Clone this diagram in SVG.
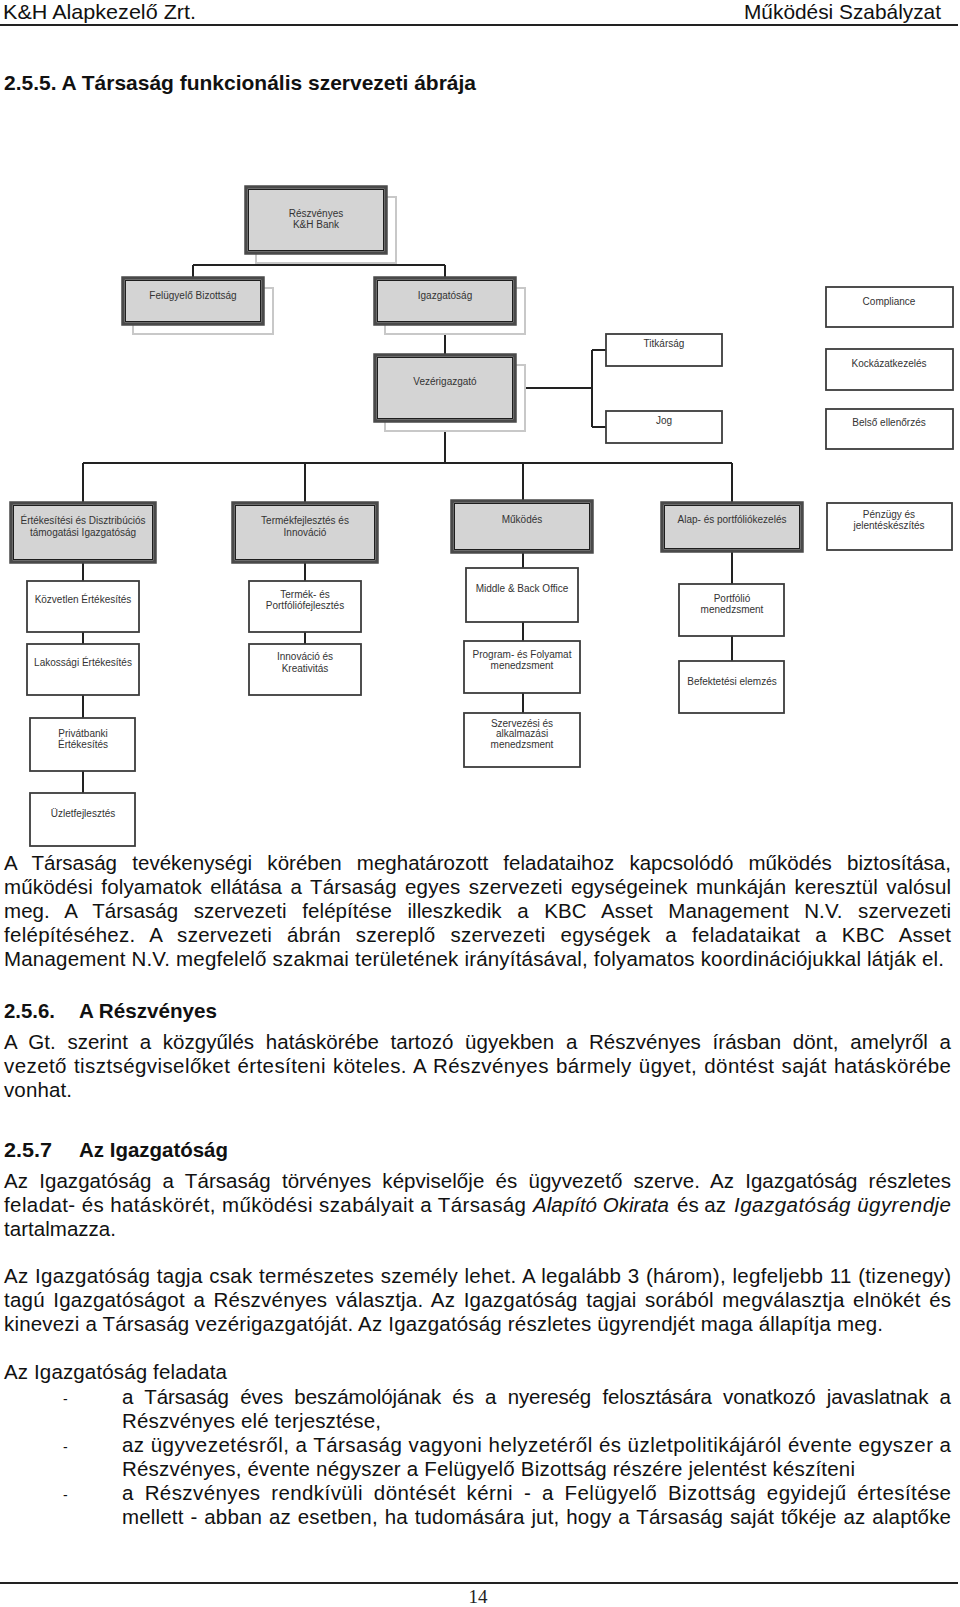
<svg xmlns="http://www.w3.org/2000/svg" width="960" height="1607" viewBox="0 0 960 1607">
<style>
.t{font-family:"Liberation Sans",Arial,sans-serif;font-size:20.5px;fill:#111}
.b{font-weight:bold}
.i{font-style:italic}
.h{font-family:"Liberation Sans",Arial,sans-serif;font-size:21px;fill:#111}
.bx text{font-family:"Liberation Sans",Arial,sans-serif;font-size:10px;fill:#333;text-anchor:middle}
.go{fill:#d4d4d4;stroke:#4a4a4a;stroke-width:3.5}
.gi{fill:none;stroke:#1e1e1e;stroke-width:1}
.sh{fill:#fff;stroke:#c8c8c8;stroke-width:2}
.wb{fill:#fff;stroke:#3c3c3c;stroke-width:1.8}
.conn path{stroke:#222;stroke-width:2;fill:none}
.rule{stroke:#222;stroke-width:2}
</style>
<rect width="960" height="1607" fill="#fff"/>
<!-- header -->
<text class="h" x="3" y="19" textLength="193" lengthAdjust="spacingAndGlyphs">K&amp;H Alapkezelő Zrt.</text>
<text class="h" x="744" y="19" textLength="197" lengthAdjust="spacingAndGlyphs">Működési Szabályzat</text>
<line class="rule" x1="0" y1="25" x2="958" y2="25"/>
<text class="t b" x="4" y="90" textLength="472" lengthAdjust="spacingAndGlyphs">2.5.5. A Társaság funkcionális szervezeti ábrája</text>

<!-- connectors -->
<g id="connectors" class="conn">
<path d="M316 253V265M193 265H445M193 265V278M445 265V278"/>
<path d="M445 324V355"/>
<path d="M445 421V463M83 463H732M83 463V503M305 463V503M523 463V501M732 463V503"/>
<path d="M515 388H592M592 350V427M592 350H606M592 427H606"/>
<path d="M83 562V581M83 632V644M83 695V718M83 771V793"/>
<path d="M305 562V581M305 632V644"/>
<path d="M523 552V568M523 622V641M523 693V713"/>
<path d="M732 551V584M732 636V661"/>
</g>

<!-- top level nodes -->
<g id="n-reszvenyes" class="bx">
<rect class="sh" x="256" y="197" width="140" height="66"/>
<rect class="go" x="246" y="187" width="140" height="66"/>
<rect class="gi" x="248.5" y="189.5" width="135" height="61"/>
<text x="316" y="217">Részvényes</text>
<text x="316" y="228">K&amp;H Bank</text>
</g>
<g id="n-felugyelo" class="bx">
<rect class="sh" x="133" y="288" width="140" height="46"/>
<rect class="go" x="123" y="278" width="140" height="46"/>
<rect class="gi" x="125.5" y="280.5" width="135" height="41"/>
<text x="193" y="299">Felügyelő Bizottság</text>
</g>
<g id="n-igazgatosag" class="bx">
<rect class="sh" x="385" y="288" width="140" height="46"/>
<rect class="go" x="375" y="278" width="140" height="46"/>
<rect class="gi" x="377.5" y="280.5" width="135" height="41"/>
<text x="445" y="299">Igazgatóság</text>
</g>
<g id="n-vezerigazgato" class="bx">
<rect class="sh" x="385" y="365" width="140" height="66"/>
<rect class="go" x="375" y="355" width="140" height="66"/>
<rect class="gi" x="377.5" y="357.5" width="135" height="61"/>
<text x="445" y="385">Vezérigazgató</text>
</g>
<g id="n-titkarsag" class="bx">
<rect class="wb" x="606" y="334" width="116" height="32"/>
<text x="664" y="347">Titkárság</text>
</g>
<g id="n-jog" class="bx">
<rect class="wb" x="606" y="411" width="116" height="32"/>
<text x="664" y="424">Jog</text>
</g>
<g id="n-compliance" class="bx">
<rect class="wb" x="826" y="287" width="127" height="40"/>
<text x="889" y="305">Compliance</text>
</g>
<g id="n-kockazat" class="bx">
<rect class="wb" x="826" y="349" width="127" height="41"/>
<text x="889" y="367">Kockázatkezelés</text>
</g>
<g id="n-belso" class="bx">
<rect class="wb" x="826" y="409" width="127" height="40"/>
<text x="889" y="426">Belső ellenőrzés</text>
</g>

<!-- second row -->
<g id="n-ertekesitesi" class="bx">
<rect class="go" x="11" y="503" width="144" height="59"/>
<rect class="gi" x="13.5" y="505.5" width="139" height="54"/>
<text x="83" y="524">Értékesítési és Disztribúciós</text>
<text x="83" y="536">támogatási Igazgatóság</text>
</g>
<g id="n-termekfejlesztes" class="bx">
<rect class="go" x="233" y="503" width="144" height="59"/>
<rect class="gi" x="235.5" y="505.5" width="139" height="54"/>
<text x="305" y="524">Termékfejlesztés és</text>
<text x="305" y="536">Innováció</text>
</g>
<g id="n-mukodes" class="bx">
<rect class="go" x="452" y="501" width="140" height="51"/>
<rect class="gi" x="454.5" y="503.5" width="135" height="46"/>
<text x="522" y="523">Működés</text>
</g>
<g id="n-alap" class="bx">
<rect class="go" x="662" y="503" width="140" height="48"/>
<rect class="gi" x="664.5" y="505.5" width="135" height="43"/>
<text x="732" y="523">Alap- és portfóliókezelés</text>
</g>
<g id="n-penzugy" class="bx">
<rect class="wb" x="827" y="503" width="125" height="47"/>
<text x="889" y="517.5">Pénzügy és</text>
<text x="889" y="529">jelentéskészítés</text>
</g>

<!-- column 1 -->
<g id="n-kozvetlen" class="bx">
<rect class="wb" x="27" y="581" width="112" height="51"/>
<text x="83" y="602.5">Közvetlen Értékesítés</text>
</g>
<g id="n-lakossagi" class="bx">
<rect class="wb" x="27" y="644" width="112" height="51"/>
<text x="83" y="666">Lakossági Értékesítés</text>
</g>
<g id="n-privatbanki" class="bx">
<rect class="wb" x="30" y="718" width="105" height="53"/>
<text x="83" y="736.5">Privátbanki</text>
<text x="83" y="747.5">Értékesítés</text>
</g>
<g id="n-uzletfejlesztes" class="bx">
<rect class="wb" x="30" y="793" width="105" height="53"/>
<text x="83" y="816.5">Üzletfejlesztés</text>
</g>

<!-- column 2 -->
<g id="n-termek-portfolio" class="bx">
<rect class="wb" x="249" y="581" width="112" height="51"/>
<text x="305" y="597.5">Termék- és</text>
<text x="305" y="609">Portfóliófejlesztés</text>
</g>
<g id="n-innovacio" class="bx">
<rect class="wb" x="249" y="644" width="112" height="51"/>
<text x="305" y="660">Innováció és</text>
<text x="305" y="671.5">Kreativitás</text>
</g>

<!-- column 3 -->
<g id="n-middleback" class="bx">
<rect class="wb" x="466" y="568" width="112" height="54"/>
<text x="522" y="591.5">Middle &amp; Back Office</text>
</g>
<g id="n-program" class="bx">
<rect class="wb" x="464" y="641" width="116" height="52"/>
<text x="522" y="657.5">Program- és Folyamat</text>
<text x="522" y="669">menedzsment</text>
</g>
<g id="n-szervezesi" class="bx">
<rect class="wb" x="464" y="713" width="116" height="54"/>
<text x="522" y="726.5">Szervezési és</text>
<text x="522" y="737">alkalmazási</text>
<text x="522" y="748">menedzsment</text>
</g>

<!-- column 4 -->
<g id="n-portfolio-men" class="bx">
<rect class="wb" x="679" y="584" width="105" height="52"/>
<text x="732" y="601.5">Portfólió</text>
<text x="732" y="613">menedzsment</text>
</g>
<g id="n-befektetesi" class="bx">
<rect class="wb" x="679" y="661" width="105" height="52"/>
<text x="732" y="684.5">Befektetési elemzés</text>
</g>

<!-- body text -->
<text class="t" x="4" y="870" word-spacing="9.5" textLength="947" lengthAdjust="spacing">A Társaság tevékenységi körében meghatározott feladataihoz kapcsolódó működés biztosítása,</text>
<text class="t" x="4" y="894" word-spacing="2.5" textLength="947" lengthAdjust="spacing">működési folyamatok ellátása a Társaság egyes szervezeti egységeinek munkáján keresztül valósul</text>
<text class="t" x="4" y="918" word-spacing="9.8" textLength="947" lengthAdjust="spacing">meg. A Társaság szervezeti felépítése illeszkedik a KBC Asset Management N.V. szervezeti</text>
<text class="t" x="4" y="942" word-spacing="9" textLength="947" lengthAdjust="spacing">felépítéséhez. A szervezeti ábrán szereplő szervezeti egységek a feladataikat a KBC Asset</text>
<text class="t" x="4" y="966" textLength="940" lengthAdjust="spacing">Management N.V. megfelelő szakmai területének irányításával, folyamatos koordinációjukkal látják el.</text>

<text class="t b" x="4" y="1018" textLength="51" lengthAdjust="spacingAndGlyphs">2.5.6.</text>
<text class="t b" x="79" y="1018" textLength="138" lengthAdjust="spacingAndGlyphs">A Részvényes</text>
<text class="t" x="4" y="1049" word-spacing="6" textLength="947" lengthAdjust="spacing">A Gt. szerint a közgyűlés hatáskörébe tartozó ügyekben a Részvényes írásban dönt, amelyről a</text>
<text class="t" x="4" y="1073" word-spacing="1" textLength="947" lengthAdjust="spacing">vezető tisztségviselőket értesíteni köteles. A Részvényes bármely ügyet, döntést saját hatáskörébe</text>
<text class="t" x="4" y="1097" textLength="68" lengthAdjust="spacing">vonhat.</text>

<text class="t b" x="4" y="1157" textLength="48" lengthAdjust="spacingAndGlyphs">2.5.7</text>
<text class="t b" x="79" y="1157" textLength="149" lengthAdjust="spacingAndGlyphs">Az Igazgatóság</text>
<text class="t" x="4" y="1188" word-spacing="5.4" textLength="947" lengthAdjust="spacing">Az Igazgatóság a Társaság törvényes képviselője és ügyvezető szerve. Az Igazgatóság részletes</text>
<text class="t" x="4" y="1212" textLength="522" lengthAdjust="spacing">feladat- és hatáskörét, működési szabályait a Társaság</text>
<text class="t i" x="533" y="1212" textLength="136" lengthAdjust="spacing">Alapító Okirata</text>
<text class="t" x="677" y="1212" textLength="49" lengthAdjust="spacing">és az</text>
<text class="t i" x="734" y="1212" textLength="217" lengthAdjust="spacing">Igazgatóság ügyrendje</text>
<text class="t" x="4" y="1236" textLength="112" lengthAdjust="spacing">tartalmazza.</text>

<text class="t" x="4" y="1283" word-spacing="0.5" textLength="947" lengthAdjust="spacing">Az Igazgatóság tagja csak természetes személy lehet. A legalább 3 (három), legfeljebb 11 (tizenegy)</text>
<text class="t" x="4" y="1307" word-spacing="2.6" textLength="947" lengthAdjust="spacing">tagú Igazgatóságot a Részvényes választja. Az Igazgatóság tagjai sorából megválasztja elnökét és</text>
<text class="t" x="4" y="1331" textLength="879" lengthAdjust="spacing">kinevezi a Társaság vezérigazgatóját. Az Igazgatóság részletes ügyrendjét maga állapítja meg.</text>

<text class="t" x="4" y="1379" textLength="223" lengthAdjust="spacing">Az Igazgatóság feladata</text>
<text class="t" x="63" y="1404" style="font-size:14px">-</text>
<text class="t" x="122" y="1404" word-spacing="5.7" textLength="829" lengthAdjust="spacing">a Társaság éves beszámolójának és a nyereség felosztására vonatkozó javaslatnak a</text>
<text class="t" x="122" y="1428" textLength="259" lengthAdjust="spacing">Részvényes elé terjesztése,</text>
<text class="t" x="63" y="1452" style="font-size:14px">-</text>
<text class="t" x="122" y="1452" textLength="829" lengthAdjust="spacing">az ügyvezetésről, a Társaság vagyoni helyzetéről és üzletpolitikájáról évente egyszer a</text>
<text class="t" x="122" y="1476" textLength="733" lengthAdjust="spacing">Részvényes, évente négyszer a Felügyelő Bizottság részére jelentést készíteni</text>
<text class="t" x="63" y="1500" style="font-size:14px">-</text>
<text class="t" x="122" y="1500" word-spacing="4.7" textLength="829" lengthAdjust="spacing">a Részvényes rendkívüli döntését kérni - a Felügyelő Bizottság egyidejű értesítése</text>
<text class="t" x="122" y="1524" word-spacing="1" textLength="829" lengthAdjust="spacing">mellett - abban az esetben, ha tudomására jut, hogy a Társaság saját tőkéje az alaptőke</text>

<line class="rule" x1="0" y1="1583" x2="958" y2="1583"/>
<text x="478" y="1603" text-anchor="middle" style="font-family:'Liberation Serif','Times New Roman',serif;font-size:19px;fill:#222">14</text>
</svg>
